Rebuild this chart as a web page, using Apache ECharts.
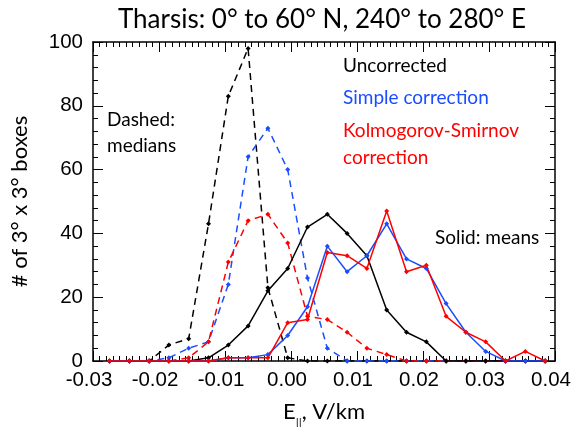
<!DOCTYPE html>
<html><head><meta charset="utf-8">
<script src="https://cdn.jsdelivr.net/npm/echarts@6/dist/echarts.min.js"></script>
<style>html,body{margin:0;padding:0;background:#fff}#c{width:573px;height:427px}</style>
</head><body><div id="c"></div>
<script>
const binCenters = [-0.0275,-0.0245,-0.0215,-0.0185,-0.0155,-0.0125,-0.0095,-0.0065,-0.0035,-0.0005,0.0025,0.0055,0.0085,0.0115,0.0145,0.0175,0.0205,0.0235,0.0265,0.0295,0.0325,0.0355,0.0385];
const medianUncorrected = [0,0,0,5,7,43,83,98,23,1,0,0,0,0,0,0,0,0,0,0,0,0,0];
const medianSimple      = [0,0,0,1,4,6,24,64,73,60,26,4,0,0,0,0,0,0,0,0,0,0,0];
const medianKS          = [0,0,0,0,1,6,31,44,46,37,14,13,9,4,2,0,0,0,0,0,0,0,0];
const meanUncorrected   = [0,0,0,0,0,1,5,11,22,29,42,46,40,33,16,9,6,0,0,0,0,0,0];
const meanSimple        = [0,0,0,0,0,0,1,1,2,8,17,36,28,33,43,32,29,18,9,3,0,0,0];
const meanKS            = [0,0,0,0,0,0,1,1,1,12,13,34,33,29,47,28,30,14,9,6,0,3,0];
const xTickLabels = ['-0.03','-0.02','-0.01','0.00','0.01','0.02','0.03','0.04'];
const yTickLabels = ['0','20','40','60','80','100'];

const BLACK='#000000', BLUE='#1a4dff', RED='#ff0000';
function pts(vals){ return binCenters.map((x,i)=>[x, vals[i]]); }
function ser(vals,color,dashed){
  return {type:'line', data:pts(vals), symbol:'diamond', symbolSize:5,
    itemStyle:{color:color}, lineStyle:{color:color,width:1.5,type:dashed?[7,5]:'solid'},
    clip:true, animation:false, z:3};
}
const chart = echarts.init(document.getElementById('c'));
const axisFont = {fontFamily:'Liberation Sans', fontSize:20.5, color:'#000'};
const annFont = 'Lato';
const tick = {inside:true,length:10,lineStyle:{color:'#000',width:1}};
const minor = n=>({show:true,splitNumber:n,length:5,lineStyle:{color:'#000',width:1}});
const line = {show:true,onZero:false,lineStyle:{color:'#000',width:1.5}};
chart.setOption({
  animation:false,
  title:{text:'Tharsis: 0° to 60° N, 240° to 280° E', left:317, top:2, textAlign:'center',
    textStyle:{fontFamily:annFont, fontSize:26, fontWeight:'normal', color:'#000'}},
  grid:{left:93, right:18, top:42, bottom:66, containLabel:false, outerBoundsMode:'none'},
  xAxis:[{type:'value', min:-0.03, max:0.04, interval:0.01,
    axisLine:line, axisTick:tick, minorTick:minor(10), splitLine:{show:false},
    axisLabel:Object.assign({margin:9, padding:[0,8,0,0], formatter:v=>xTickLabels[Math.round((v+0.03)/0.01)]}, axisFont),
    name:'{e|E}{s|||}{e|, V/km}', nameLocation:'middle', nameGap:40,
    nameTextStyle:{rich:{e:{fontFamily:annFont,fontSize:22,color:'#000'},s:{fontFamily:annFont,fontSize:12,color:'#000',verticalAlign:'bottom',padding:[0,0,-6,0]}}}
  },{type:'value', position:'top', min:-0.03, max:0.04, interval:0.01,
    axisLine:line, axisTick:tick, minorTick:minor(10), splitLine:{show:false}, axisLabel:{show:false}}],
  yAxis:[{type:'value', min:0, max:100, interval:20,
    axisLine:line, axisTick:Object.assign({show:true},tick), minorTick:minor(5), splitLine:{show:false},
    axisLabel:Object.assign({margin:10, formatter:v=>yTickLabels[Math.round(v/20)]}, axisFont),
    name:'# of 3° x 3° boxes', nameLocation:'middle', nameGap:62,
    nameTextStyle:{fontFamily:annFont,fontSize:22,color:'#000'}
  },{type:'value', position:'right', min:0, max:100, interval:20,
    axisLine:line, axisTick:Object.assign({show:true},tick), minorTick:minor(5), splitLine:{show:false}, axisLabel:{show:false}}],
  series:[
    ser(medianUncorrected,BLACK,true),
    ser(medianSimple,BLUE,true),
    ser(medianKS,RED,true),
    ser(meanUncorrected,BLACK,false),
    ser(meanSimple,BLUE,false),
    ser(meanKS,RED,false)
  ],
  graphic:[
    {type:'text',left:343,top:56,style:{text:'Uncorrected',font:'19px Lato',fill:BLACK}},
    {type:'text',left:343,top:88,style:{text:'Simple correction',font:'19px Lato',fill:BLUE}},
    {type:'text',left:343,top:117,style:{text:'Kolmogorov-Smirnov\ncorrection',font:'19px Lato',fill:RED,lineHeight:27}},
    {type:'text',left:107,top:107,style:{text:'Dashed:\nmedians',font:'19px Lato',fill:BLACK,lineHeight:26}},
    {type:'text',left:435,top:228,style:{text:'Solid: means',font:'19px Lato',fill:BLACK}}
  ]
});
</script></body></html>
